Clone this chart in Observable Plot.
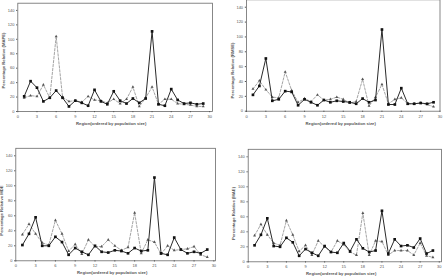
<!DOCTYPE html>
<html>
<head>
<meta charset="utf-8">
<script src="https://cdn.jsdelivr.net/npm/d3@7"></script>
<script src="https://cdn.jsdelivr.net/npm/@observablehq/plot@0.6"></script>
<style>
  html, body { margin: 0; padding: 0; background: #fff; }
  #board { position: relative; width: 444px; height: 277px; overflow: hidden; background: #fff; }
  #board > div { position: absolute; }
  svg { display: block; }
</style>
</head>
<body>
<div id="board"></div>
<script>
// Regions, ordered by population size
const regions = [1,2,3,4,5,6,7,8,9,10,11,12,13,14,15,16,17,18,19,20,21,22,23,24,25,26,27,28,29];
const xTicks = [0,3,6,9,12,15,18,21,24,27,30];
const yTicks = [0,20,40,60,80,100,120,140];

// Percentage relative errors per region: solid series and dashed series
const mapeSolid  = [21,42,33,14,19,29,19,7,15,12,8,30,14,10,28,15,11,18,12,18,111,10,8,31,16,11,12,10,11];
const mapeDashed = [19,22,21,37,19,104,20,14,15,13,21,16,15,12,17,11,17,34,7,19,34,10,17,17,11,10,9,7,7];

const rmseSolid  = [22,34,71,14,16,27,26,8,16,12,8,15,12,14,13,12,10,17,12,15,110,9,9,31,10,10,11,10,12];
const rmseDashed = [30,41,29,19,18,53,28,12,17,13,22,15,16,19,16,11,13,43,7,19,36,10,16,18,10,10,11,9,6];

const mdeSolid   = [21,36,58,20,20,32,25,8,17,12,8,20,12,11,14,13,10,17,13,14,111,10,8,31,15,10,12,10,15];
const mdeDashed  = [35,49,36,24,21,54,36,13,22,9,28,19,19,28,20,14,18,64,10,28,25,9,20,14,15,16,19,8,5];

const maeSolid   = [22,36,58,21,20,32,26,8,17,12,8,21,13,12,25,14,30,18,13,15,68,11,30,21,22,19,31,11,15];
const maeDashed  = [35,50,36,25,22,55,36,14,22,9,28,20,13,28,23,13,9,65,9,28,27,9,15,15,15,9,25,8,6];

const xTitle = "Region(ordered by population size)";

const panels = [
  {left: 0,   top: 0,   w: 222, h: 138, yTitle: "Percentage Relative (MAPE)", solid: mapeSolid, dashed: mapeDashed,
   m: {l: 17.3, r: 10, t: 2.7, b: 27}, xMax: 30.45, yTitleY: 60},
  {left: 222, top: 0,   w: 222, h: 138, yTitle: "Percentage Relative (RMSE)", solid: rmseSolid, dashed: rmseDashed,
   m: {l: 24, r: 4.5, t: -0.7, b: 27.3}, xMax: 30, yTitleY: 70},
  {left: 0,   top: 138, w: 222, h: 139, yTitle: "Percentage Relative MDE", solid: mdeSolid, dashed: mdeDashed,
   m: {l: 15.3, r: 7, t: 9.8, b: 16.7}, xMax: 30.25, yTitleY: 72},
  {left: 222, top: 138, w: 222, h: 139, yTitle: "Percentage Relative (MAE)", solid: maeSolid, dashed: maeDashed,
   m: {l: 25.7, r: 3, t: 10.8, b: 15.7}, xMax: 30.35, yTitleY: 75}
];

const board = document.getElementById("board");

for (const p of panels) {
  const solid = regions.map((r, i) => ({region: r, value: p.solid[i]}));
  const dashed = regions.map((r, i) => ({region: r, value: p.dashed[i]}));
  const innerW = p.w - p.m.l - p.m.r;
  const innerH = p.h - p.m.t - p.m.b;
  const pxX = innerW / p.xMax;      // pixels per region unit
  const pxY = innerH / 150;         // pixels per percentage point

  const chart = Plot.plot({
    width: p.w,
    height: p.h,
    marginLeft: p.m.l,
    marginRight: p.m.r,
    marginTop: p.m.t,
    marginBottom: p.m.b,
    style: {fontFamily: "Liberation Sans, Arial, sans-serif", fontSize: "4px", color: "#555", background: "#fff"},
    x: {domain: [0, p.xMax], axis: null},
    y: {domain: [0, 150], axis: null},
    marks: [
      Plot.frame({stroke: "#6a6a6a", strokeWidth: 0.8}),
      Plot.axisX({ticks: xTicks, tickSize: 1.2, tickPadding: 2.5, fontSize: 4, fill: "#555", label: null, tickFormat: d => String(d)}),
      Plot.axisY({ticks: yTicks, tickSize: 1.2, tickPadding: 2.2, fontSize: 4, fill: "#555", label: null, tickFormat: d => String(d)}),
      Plot.line(dashed, {x: "region", y: "value", stroke: "#858585", strokeWidth: 0.75, strokeDasharray: "2.4,1.6"}),
      Plot.dot(dashed, {x: "region", y: "value", symbol: "triangle", r: 1.1, fill: "#555", stroke: "none"}),
      Plot.line(solid, {x: "region", y: "value", stroke: "#2a2a2a", strokeWidth: 1.0}),
      Plot.dot(solid, {x: "region", y: "value", symbol: "square", r: 1.5, fill: "#111", stroke: "none"}),
      // axis titles placed in data units relative to the frame
      Plot.text([p.yTitle], {
        x: -14.3 / pxX, y: 150 - (p.yTitleY - p.m.t) / pxY,
        text: d => d, rotate: -90, textAnchor: "middle", fontSize: 4.2, fontWeight: "bold", fill: "#555"
      }),
      Plot.text([xTitle], {
        x: 14.6, y: -12 / pxY,
        text: d => d, textAnchor: "middle", fontSize: 4.2, fontWeight: "bold", fill: "#555"
      })
    ]
  });
  const holder = document.createElement("div");
  holder.style.left = p.left + "px";
  holder.style.top = p.top + "px";
  holder.appendChild(chart);
  board.appendChild(holder);
}
</script>
</body>
</html>
